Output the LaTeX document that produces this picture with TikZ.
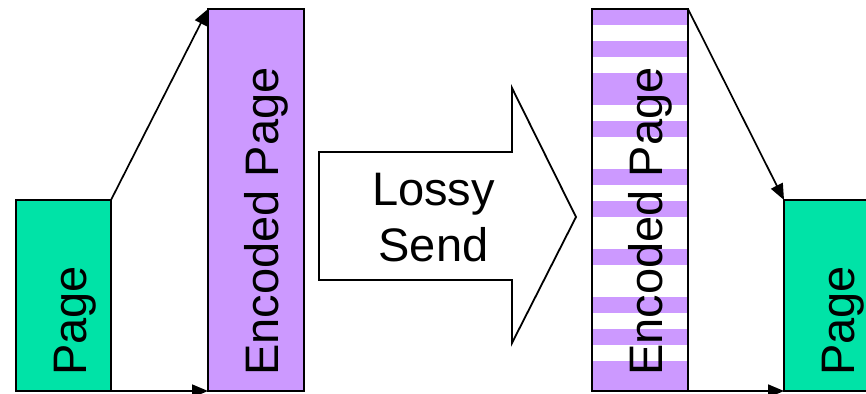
\documentclass[tikz,border=0pt]{standalone}
\usepackage{fontspec}
\setmainfont{Liberation Sans}
\usetikzlibrary{arrows.meta,calc}
\definecolor{pagegreen}{RGB}{0,227,167}
\definecolor{codepurple}{RGB}{204,153,255}
\begin{document}
\begin{tikzpicture}[x=1pt,y=1pt,
  sheet/.style={draw=black, line width=2.3pt, inner sep=0pt, outer sep=0pt},
  plainsheet/.style={sheet, fill=pagegreen, minimum width=95pt, minimum height=191pt},
  codedsheet/.style={sheet, minimum width=96pt, minimum height=382pt},
  bigfont/.style={font=\fontsize{47}{56}\selectfont},
  vlabel/.style={bigfont, rotate=90, anchor=base west, inner sep=0pt},
  conn/.style={line width=1.7pt, -{Triangle[length=16pt,width=13pt]}},
  sendarrow/.style={draw=black, line width=1.8pt, fill=white}
]
\useasboundingbox (0,0) rectangle (866,393);
\clip (0,0) rectangle (866,393);

% baseline reference for the rotated labels
\coordinate (lbl) at (0,17);

% stripes of the damaged encoded page
\foreach \a/\b in {9/25,41/57,73/105,121/137,169/185,201/217,249/265,297/313,329/345,361/391}
  \fill[codepurple] (592,393-\b) rectangle (688,393-\a);

% pages
\node[plainsheet] (p1) at (63.5,97.5) {};
\node[codedsheet, fill=codepurple] (e1) at (256,193) {};
\node[codedsheet] (e2) at (640,193) {};
\node[plainsheet] (p2) at (831.5,97.5) {};

% rotated labels
\node[vlabel] (t1) at ($(p1.center |- lbl)+(22.5,0)$) {Page};
\node[vlabel] (t2) at ($(e1.center |- lbl)+(22.5,0)$) {Encoded Page};
\node[vlabel] (t3) at ($(e2.center |- lbl)+(22.5,0)$) {Encoded Page};
\node[vlabel] (t4) at ($(p2.center |- lbl)+(22.5,0)$) {Page};

% connectors
\draw[conn] (p1.north east) -- (e1.north west);
\draw[conn] (p1.south east) -- (e1.south west);
\draw[conn] (e2.north east) -- (p2.north west);
\draw[conn] (e2.south east) -- (p2.south west);

% block arrow in the middle
\draw[sendarrow] (319,241) -- (512,241) -- (512,305) -- (576,176)
  -- (512,50) -- (512,113) -- (319,113) -- cycle;
\node[bigfont, align=center, inner sep=0pt] (send) at (433.5,175) {Lossy\\Send};
\end{tikzpicture}
\end{document}
